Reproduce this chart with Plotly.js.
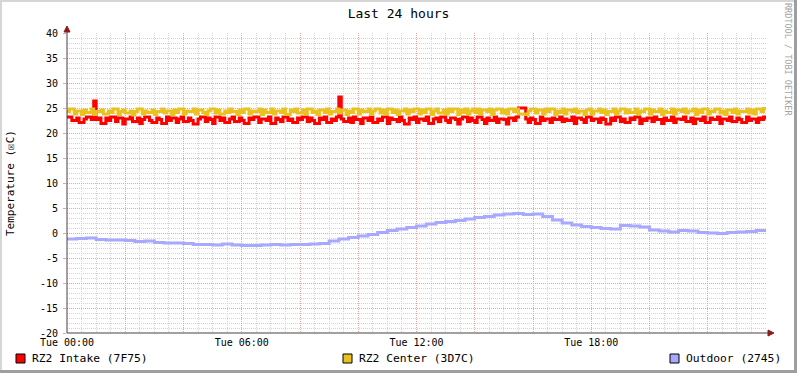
<!DOCTYPE html>
<html>
<head>
<meta charset="utf-8">
<script src="https://cdn.plot.ly/plotly-3.0.1.min.js"></script>
<style>
html,body{margin:0;padding:0;background:#fff;}
#chart{width:797px;height:373px;}
</style>
</head>
<body>
<div id="chart"></div>
<script>
// ---------- DATA ----------
const titleText = "Last 24 hours";
const yAxisTitle = "Temperature (\u2612C)";
const seriesNames = ["RZ2 Intake (7F75)", "RZ2 Center (3D7C)", "Outdoor (2745)"];
const seriesColors = ["#ff0000", "#eac21f", "#a8a8ff"];

const xTickVals = [0, 2, 4, 6, 8, 10, 12, 14, 16, 18, 20, 22];
const xTickLabels = ["Tue 00:00", "", "", "Tue 06:00", "", "", "Tue 12:00", "", "", "Tue 18:00", "", ""];
const yTickVals = [-20, -15, -10, -5, 0, 5, 10, 15, 20, 25, 30, 35, 40];
const yTickLabels = ["-20", "-15", "-10", "-5", "0", "5", "10", "15", "20", "25", "30", "35", "40"];

// 5-minute samples, Tue 00:00 .. Wed 00:00
const intake = [
  23.2,23.2,22.5,22.5,23.0,22.1,22.1,22.8,23.2,23.2,22.7,26.4,22.7,23.0,21.9,21.9,23.0,22.5,23.2,23.2,22.3,23.0,23.0,21.8,
  22.8,22.8,23.2,22.3,22.3,23.0,21.9,22.7,23.2,23.2,22.5,22.1,22.1,23.0,22.7,21.9,21.9,23.2,22.5,23.0,23.0,22.1,22.8,23.2,
  22.3,22.3,23.0,22.5,21.8,21.8,22.8,23.2,23.2,22.3,23.0,22.7,21.9,23.2,23.2,22.5,23.0,22.1,22.1,22.8,23.2,22.3,22.3,23.0,
  22.5,21.9,21.9,23.0,22.7,23.2,23.2,22.1,22.8,22.8,22.5,23.2,21.9,21.9,23.0,22.7,22.3,23.2,23.2,22.5,22.8,22.1,22.1,23.0,
  22.7,23.2,23.2,22.3,23.0,22.5,21.9,21.9,23.0,22.7,23.2,22.1,22.1,22.8,22.5,23.2,27.2,22.8,22.3,22.3,23.0,22.1,23.2,22.7,
  22.7,21.9,23.0,23.0,22.5,23.2,22.1,22.1,22.8,22.5,23.2,23.2,21.9,23.0,22.7,22.7,22.3,23.2,22.5,21.8,21.8,23.0,22.7,23.2,
  22.1,22.8,22.8,22.5,23.2,21.9,21.9,22.8,23.0,22.3,23.2,23.2,22.5,22.1,23.0,23.0,22.7,21.8,22.8,23.2,23.2,22.3,23.0,22.5,
  22.1,23.2,23.2,22.7,21.9,23.0,22.5,22.5,23.2,22.1,22.8,22.8,22.7,21.8,23.0,23.0,22.5,23.2,25.0,25.0,25.0,22.8,22.1,23.0,
  22.7,21.9,21.9,23.2,22.5,22.8,22.8,22.1,23.0,22.7,22.7,23.2,22.3,22.8,22.5,22.5,23.2,21.9,23.0,23.0,22.7,22.1,23.2,23.2,
  22.5,22.8,22.8,22.1,23.0,22.7,21.8,21.8,23.0,22.5,23.2,23.2,22.3,22.8,22.1,22.1,23.0,22.7,23.2,23.2,21.9,22.8,22.5,23.0,
  23.0,22.3,23.2,22.7,22.7,21.9,23.0,22.5,22.5,23.2,22.1,22.8,22.8,22.7,23.2,22.3,22.3,23.0,21.9,22.8,22.8,22.5,23.2,22.1,
  22.1,23.0,22.7,22.7,23.2,21.9,22.8,22.8,22.5,23.2,22.3,22.3,23.0,22.7,22.1,22.1,23.2,22.5,22.8,22.8,22.1,23.0,22.7,23.2,
  22.7
];
const center = [
  24.3,24.8,24.8,23.8,24.4,24.4,23.7,24.6,24.1,24.1,24.8,23.7,24.3,24.3,24.6,23.8,23.8,24.4,24.1,24.8,24.8,23.7,24.3,24.6,
  24.0,24.0,24.4,23.6,24.3,24.8,24.8,23.8,24.4,24.1,24.1,24.6,23.7,24.3,24.3,24.8,24.0,24.4,24.4,23.7,24.6,24.1,24.8,24.8,
  23.8,24.4,24.3,24.3,24.8,23.8,24.6,24.6,24.1,23.7,24.4,24.8,24.8,24.0,24.6,23.8,23.8,24.4,24.1,24.8,24.3,24.3,23.7,24.6,
  24.1,24.8,24.8,23.8,24.4,24.3,24.3,24.8,23.7,24.6,24.1,24.1,24.8,23.8,24.4,24.4,24.1,24.8,23.7,23.7,24.6,24.3,24.8,24.0,
  24.0,24.6,23.8,24.8,24.8,24.1,24.4,23.7,24.6,24.6,24.1,24.8,23.8,24.3,24.3,24.8,24.0,24.6,24.6,23.7,24.4,24.1,24.8,24.8,
  23.8,24.6,24.3,24.3,24.8,23.7,24.4,24.8,24.8,24.0,24.6,23.8,24.8,24.8,24.1,24.6,23.7,24.4,24.4,24.8,23.8,24.6,24.3,24.8,
  24.8,23.8,24.6,24.1,24.8,24.8,23.7,24.4,24.8,24.0,24.0,24.6,23.8,24.8,24.3,24.8,24.8,23.7,24.6,24.1,24.8,23.8,24.4,24.8,
  24.1,24.8,23.8,24.6,24.6,24.3,24.8,23.7,24.6,24.8,24.8,24.0,24.6,23.8,24.8,24.8,24.3,24.8,23.8,23.8,23.8,23.7,24.4,24.8,
  24.8,24.0,24.6,24.6,23.8,24.8,24.3,24.8,24.8,23.7,24.4,24.1,24.8,23.8,24.6,24.6,24.3,24.8,24.0,24.4,24.4,23.7,24.6,24.8,
  23.8,24.4,24.4,24.8,24.1,24.6,23.7,24.3,24.3,24.8,23.8,24.4,24.8,24.8,24.0,24.6,24.1,24.1,24.8,23.8,24.4,24.3,24.8,24.8,
  23.8,24.6,24.3,24.3,24.8,23.7,24.4,24.1,24.1,24.8,23.8,24.6,24.6,24.3,24.8,24.0,24.4,24.4,24.8,23.7,24.6,24.1,24.8,24.8,
  23.8,24.4,24.3,24.8,24.8,24.0,24.4,23.7,24.6,24.6,24.1,24.8,23.8,24.4,24.3,24.3,24.8,24.0,24.6,23.8,24.8,24.8,24.3,24.9,
  24.9
];
// 20-minute samples
const outdoor = [
  -1.2,-1.1,-1.0,-1.3,-1.4,-1.4,-1.5,-1.7,-1.6,-1.9,-2.0,-2.0,
  -2.1,-2.3,-2.3,-2.4,-2.2,-2.4,-2.5,-2.5,-2.4,-2.3,-2.4,-2.3,
  -2.3,-2.2,-2.1,-1.6,-1.2,-0.9,-0.6,-0.3,0.1,0.5,0.8,1.1,
  1.4,1.8,2.1,2.3,2.5,2.8,3.1,3.3,3.6,3.8,3.9,3.7,
  3.8,3.3,2.6,2.0,1.6,1.3,1.1,0.9,0.8,1.5,1.4,1.2,
  0.6,0.4,0.2,0.5,0.4,0.1,0.0,-0.1,0.1,0.2,0.3,0.5,
  0.3
];

// time grids (hours since Tue 00:00)
const t5 = intake.map((_, i) => i * 5 / 60);
const t20 = outdoor.map((_, i) => i * 20 / 60);

// ---------- LAYOUT HELPERS ----------
const W = 797, H = 373;
const M = {l: 67, r: 31, t: 33, b: 40};
const PW = W - M.l - M.r, PH = H - M.t - M.b;
const X = px => (px - M.l) / PW;
const Y = py => (M.t + PH - py) / PH;
const FONT = "DejaVu Sans Mono, monospace";

const traces = [
  {x: t5, y: intake, name: seriesNames[0], type: "scatter", mode: "lines",
   line: {color: seriesColors[0], width: 3, shape: "hv"}},
  {x: t5, y: center, name: seriesNames[1], type: "scatter", mode: "lines",
   line: {color: seriesColors[1], width: 3, shape: "hv"}},
  {x: t20, y: outdoor, name: seriesNames[2], type: "scatter", mode: "lines",
   line: {color: seriesColors[2], width: 3, shape: "hv"}}
];

function rect(x0, y0, x1, y1, fill, lineColor) {
  return {type: "rect", xref: "paper", yref: "paper",
    x0: X(x0), x1: X(x1), y0: Y(y0), y1: Y(y1),
    fillcolor: fill, line: lineColor ? {color: lineColor, width: 1} : {width: 0}, layer: "above"};
}
function line(x0, y0, x1, y1, color) {
  return {type: "line", xref: "paper", yref: "paper",
    x0: X(x0), x1: X(x1), y0: Y(y0), y1: Y(y1),
    line: {color: color, width: 1}, layer: "above"};
}
function tri(pts, color) {
  const p = pts.map((q, i) => (i ? "L" : "M") + X(q[0]) + "," + Y(q[1])).join(" ") + " Z";
  return {type: "path", xref: "paper", yref: "paper", path: p,
    fillcolor: color, line: {color: color, width: 1}, layer: "above"};
}

const legendPos = [16, 343, 670];
const shapes = [
  rect(0, 0, W, 2, "#d6d6d6"),
  rect(0, 0, 2, H, "#d6d6d6"),
  rect(W - 3, 0, W, H, "#9e9e9e"),
  rect(0, H - 3, W, H, "#9e9e9e"),
  line(67, 333, 67, 29, "#4b3f3f"),
  line(67, 333, 769, 333, "#4b3f3f"),
  tri([[64, 32], [70, 32], [67, 26]], "#8b1c1c"),
  tri([[768, 330], [768, 336], [774, 333]], "#8b1c1c")
];
const annotations = [
  {text: yAxisTitle, xref: "paper", yref: "paper", x: X(10), y: Y(183), textangle: -90,
   showarrow: false, xanchor: "center", yanchor: "middle", font: {family: FONT, size: 11, color: "#000"}},
  {text: "RRDTOOL / TOBI OETIKER", xref: "paper", yref: "paper", x: X(788), y: Y(60), textangle: 90,
   showarrow: false, xanchor: "center", yanchor: "middle", font: {family: FONT, size: 8.5, color: "#a4a4a4"}}
];
seriesNames.forEach((n, i) => {
  const lx = legendPos[i];
  shapes.push(rect(lx, 354, lx + 9, 363, seriesColors[i], "#000"));
  annotations.push({text: n, xref: "paper", yref: "paper", x: X(lx + 14), y: Y(358.5),
    showarrow: false, xanchor: "left", yanchor: "middle",
    font: {family: FONT, size: 11.3, color: "#000"}});
});

const layout = {
  width: W, height: H,
  margin: M,
  paper_bgcolor: "#ffffff",
  plot_bgcolor: "#ffffff",
  showlegend: false,
  title: {text: titleText, xref: "container", x: 0.5, xanchor: "center",
    yref: "container", y: 1 - 13 / H, yanchor: "middle",
    font: {family: FONT, size: 13, color: "#000"}},
  xaxis: {
    range: [0, 24], tickmode: "array", tickvals: xTickVals, ticktext: xTickLabels,
    showgrid: true, gridcolor: "#e6a6a6", griddash: "1px,1px", gridwidth: 1,
    zeroline: false, showline: false, ticks: "", ticklabelstandoff: 2,
    tickfont: {family: FONT, size: 10, color: "#000"},
    minor: {dtick: 0.5, showgrid: true, gridcolor: "#d4d4d4", griddash: "1px,1px", gridwidth: 1}
  },
  yaxis: {
    range: [-20, 40], tickmode: "array", tickvals: yTickVals, ticktext: yTickLabels,
    showgrid: true, gridcolor: "#e6a6a6", griddash: "1px,1px", gridwidth: 1,
    zeroline: false, showline: false, ticks: "outside", ticklen: 3, tickcolor: "#e6a6a6",
    ticklabelstandoff: 3,
    tickfont: {family: FONT, size: 10, color: "#000"},
    minor: {dtick: 1, showgrid: true, gridcolor: "#d4d4d4", griddash: "1px,1px", gridwidth: 1}
  },
  shapes: shapes,
  annotations: annotations
};

Plotly.newPlot("chart", traces, layout, {staticPlot: true, displayModeBar: false});
</script>
</body>
</html>
